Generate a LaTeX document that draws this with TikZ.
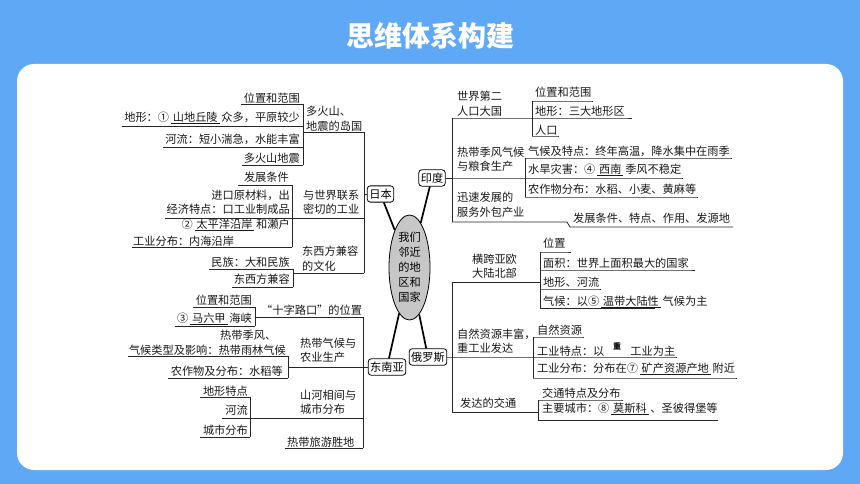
\documentclass[tikz,border=0pt]{standalone}
\usepackage{fontspec}
\setmainfont{Noto Sans CJK SC}
\usetikzlibrary{shapes.geometric}
\definecolor{bgblue}{HTML}{5EA8F5}
\newcommand\myfs{\fontsize{11.2}{14.5}\selectfont}
\tikzset{
  ln/.style={line width=0.8pt, draw=black!85},
  t/.style={inner sep=0pt, font=\myfs, text=black!90},
  cbox/.style={draw, rounded corners=3pt, inner xsep=2pt, inner ysep=3pt, font=\myfs, line width=0.8pt, fill=white},
  conn/.style={line width=1.7pt, draw=black},
}
\begin{document}
\begin{tikzpicture}[x=1pt,y=-1pt]
\useasboundingbox (0,0) rectangle (860,484);
\fill[bgblue] (0,0) rectangle (860,484);
\fill[white, rounded corners=17pt] (17,64) rectangle (843,470);
\node[inner sep=0, text=white, font=\fontsize{28}{28}\selectfont\bfseries] (title) at (430,36) {思维体系构建};

% centre
\node[ellipse, draw, line width=0.8pt, fill=black!22, minimum width=41pt, minimum height=105pt, inner sep=0pt, align=center, font=\fontsize{11.2}{15}\selectfont] (el) at (409.5,267.5) {我们\\邻近\\的地\\区和\\国家};
\node[cbox] (jp) at (380.5,194) {日本};
\node[cbox] (ind) at (432,178) {印度};
\node[cbox] (sea) at (387,367) {东南亚};
\node[cbox] (rus) at (428,357) {俄罗斯};
\draw[conn] (jp) -- (el);
\draw[conn] (ind) -- (el);
\draw[conn] (sea) -- (el);
\draw[conn] (rus) -- (el);

% ===== Japan =====
\draw[ln] (364,132) -- (364,273);
\draw[ln] (364,194) -- (jp.west);
\node[t, anchor=west, align=left] (jA) at (306,119) {多火山、\\地震的岛国};
\draw[ln] (303,132) -- (364,132);
\draw[ln] (303,104) -- (303,165);
\node[t, anchor=east] (jA1) at (300,98) {位置和范围};
\draw[ln] (jA1.west |- 0,104) ++(-3,0) -- (303,104);
\node[t, anchor=east] (jA2) at (300,118) {地形：①\,\underline{\,山地丘陵\,}\,众多，平原较少};
\draw[ln] (jA2.west |- 0,126) ++(-2,0) -- (303,126);
\node[t, anchor=east] (jA3) at (300,139) {河流：短小湍急，水能丰富};
\draw[ln] (jA3.west |- 0,147) ++(-2,0) -- (303,147);
\node[t, anchor=east] (jA4) at (300,158) {多火山地震};
\draw[ln] (jA4.west |- 0,165) ++(-2,0) -- (303,165);

\node[t, anchor=west, align=left] (jB) at (303,202.5) {与世界联系\\密切的工业};
\draw[ln] (292,185) -- (292,247);
\node[t, anchor=east] (jB1) at (289,177) {发展条件};
\draw[ln] (jB1.west |- 0,185) ++(-6,0) -- (292,185);
\node[t, anchor=east, align=right] (jB2) at (290,202.5) {进口原材料，出\\经济特点：口工业制成品};
\draw[ln] (jB2.west |- 0,218) ++(-1,0) -- (364,218);
\node[t, anchor=east] (jB3) at (290,225) {②\,\underline{\,太平洋沿岸\,}\,和濑户};
\node[t, anchor=west] (jB3b) at (133,241) {工业分布：内海沿岸};
\draw[ln] (jB3b.west |- 0,247) ++(-1,0) -- (292,247);

\node[t, anchor=west, align=left] (jC) at (302,258.5) {东西方兼容\\的文化};
\draw[ln] (293,273) -- (364,273);
\draw[ln] (293,269) -- (293,287);
\node[t, anchor=east] (jC1) at (290,262) {民族：大和民族};
\draw[ln] (jC1.west |- 0,269) ++(-2,0) -- (293,269);
\node[t, anchor=east] (jC2) at (290,279) {东西方兼容};
\draw[ln] (jC2.west |- 0,287) ++(-2,0) -- (293,287);

% ===== Southeast Asia =====
\draw[ln] (363,317) -- (363,448);
\draw[ln] (363,367) -- (sea.west);
\node[t, anchor=west] (s1) at (261,310) {“十字路口”的位置};
\draw[ln] (255,317) -- (363,317);
\draw[ln] (255,307) -- (255,326);
\node[t, anchor=east] (s1a) at (252,300) {位置和范围};
\draw[ln] (s1a.west |- 0,307) ++(-3,0) -- (255,307);
\node[t, anchor=east] (s1b) at (252,319) {③\,\underline{\,马六甲\,}\,海峡};
\draw[ln] (s1b.west |- 0,326) ++(-2,0) -- (255,326);

\node[t, anchor=west, align=left] (s2) at (300,350.5) {热带气候与\\农业生产};
\draw[ln] (288,367) -- (363,367);
\draw[ln] (288,356) -- (288,378);
\node[t, anchor=west] (s2a) at (220,335) {热带季风、};
\node[t, anchor=east] (s2b) at (286,350) {气候类型及影响：热带雨林气候};
\draw[ln] (s2b.west |- 0,356) ++(-1,0) -- (288,356);
\node[t, anchor=east] (s2c) at (283,371) {农作物及分布：水稻等};
\draw[ln] (s2c.west |- 0,378) ++(-3,0) -- (288,378);

\node[t, anchor=west, align=left] (s3) at (300,402.5) {山河相间与\\城市分布};
\draw[ln] (250,397) -- (250,437);
\node[t, anchor=east] (s3a) at (248,391) {地形特点};
\draw[ln] (s3a.west |- 0,397) ++(-3,0) -- (250,397);
\node[t, anchor=east] (s3b) at (248,410) {河流};
\draw[ln] (s3b.west |- 0,418) ++(-3,0) -- (363,418);
\node[t, anchor=east] (s3c) at (248,430) {城市分布};
\draw[ln] (s3c.west |- 0,437) ++(-3,0) -- (250,437);

\node[t, anchor=west] (s4) at (287,442) {热带旅游胜地};
\draw[ln] (s4.west |- 0,448) ++(-2,0) -- (363,448);

% ===== India =====
\draw[ln] (452,118) -- (452,222);
\draw[ln] (ind.east) -- (452,178);
\node[t, anchor=west, align=left] (i1) at (457,103.5) {世界第二\\人口大国};
\draw[ln] (532,101) -- (532,136);
\node[t, anchor=west] (i1a) at (535,92) {位置和范围};
\draw[ln] (532,101) -- (i1a.east |- 0,101) -- ++(2,0);
\node[t, anchor=west] (i1b) at (535,111) {地形：三大地形区};
\draw[ln] (452,118) -- (i1b.east |- 0,118) -- ++(7,0);
\node[t, anchor=west] (i1c) at (535,130) {人口};
\draw[ln] (532,136) -- (i1c.east |- 0,136) -- ++(1,0);

\node[t, anchor=west, align=left] (i2) at (457,159.5) {热带季风气候\\与粮食生产};
\draw[ln] (525,158) -- (525,197);
\node[t, anchor=west] (i2a) at (528,151) {气候及特点：终年高温，降水集中在雨季};
\draw[ln] (525,158) -- (i2a.east |- 0,158) -- ++(2,0);
\node[t, anchor=west] (i2b) at (528,170) {水旱灾害：④\,\underline{\,西南\,}\,季风不稳定};
\draw[ln] (452,178) -- (i2b.east |- 0,178) -- ++(2,0);
\node[t, anchor=west] (i2c) at (528,189) {农作物分布：水稻、小麦、黄麻等};
\draw[ln] (525,197) -- (i2c.east |- 0,197) -- ++(2,0);

\node[t, anchor=west, align=left] (i3) at (457,205) {迅速发展的\\服务外包产业};
\node[t, anchor=west] (i3a) at (573,218) {发展条件、特点、作用、发源地};
\draw[ln] (452,222) -- (567,222) -- (570,227) -- (i3a.east |- 0,227) -- ++(3,0);

% ===== Russia =====
\draw[ln] (452,282) -- (452,412);
\node[t, anchor=center, align=center] (r1) at (494.5,266) {横跨亚欧\\大陆北部};
\draw[ln] (452,282) -- (540,282);
\draw[ln] (540,252) -- (540,308);
\node[t, anchor=west] (r1a) at (543,243) {位置};
\draw[ln] (540,252) -- (r1a.east |- 0,252) -- ++(5,0);
\node[t, anchor=west] (r1b) at (543,263) {面积：世界上面积最大的国家};
\draw[ln] (540,270) -- (r1b.east |- 0,270) -- ++(6,0);
\node[t, anchor=west] (r1c) at (543,282) {地形、河流};
\draw[ln] (540,289) -- (r1c.east |- 0,289) -- ++(2,0);
\node[t, anchor=west] (r1d) at (543,302) {气候：以⑤\,\underline{\,温带大陆性\,}\,气候为主};
\draw[ln] (540,308) -- ++(115,0);

\node[t, anchor=west, align=left] (r2) at (457,341) {自然资源丰富，\\重工业发达};
\draw[ln] (533,337) -- (533,378);
\node[t, anchor=west] (r2a) at (537,330) {自然资源};
\draw[ln] (533,337) -- (r2a.east |- 0,337) -- ++(2,0);
\node[t, anchor=west] (r2b) at (537,351) {工业特点：以\hspace{26pt}工业为主};
\node[inner sep=0pt, font=\fontsize{8}{8}\selectfont\bfseries] (r2z) at (617,346) {重};
\draw[ln] (rus.east) -- (r2b.east |- 0,357) -- ++(2,0);
\node[t, anchor=west] (r2c) at (537,369) {工业分布：分布在⑦\,\underline{\,矿产资源产地\,}\,附近};
\draw[ln] (533,378) -- (r2c.east |- 0,378) -- ++(2,0);

\node[t, anchor=west] (r3) at (460,403) {发达的交通};
\draw[ln] (452,412) -- (538,412);
\draw[ln] (538,400) -- (538,420);
\node[t, anchor=west] (r3a) at (542,393) {交通特点及分布};
\draw[ln] (538,400) -- (r3a.east |- 0,400) -- ++(2,0);
\node[t, anchor=west] (r3b) at (542,409) {主要城市：⑧\,\underline{\,莫斯科\,}\,、圣彼得堡等};
\draw[ln] (538,420) -- (r3b.east |- 0,420);
\end{tikzpicture}
\end{document}
